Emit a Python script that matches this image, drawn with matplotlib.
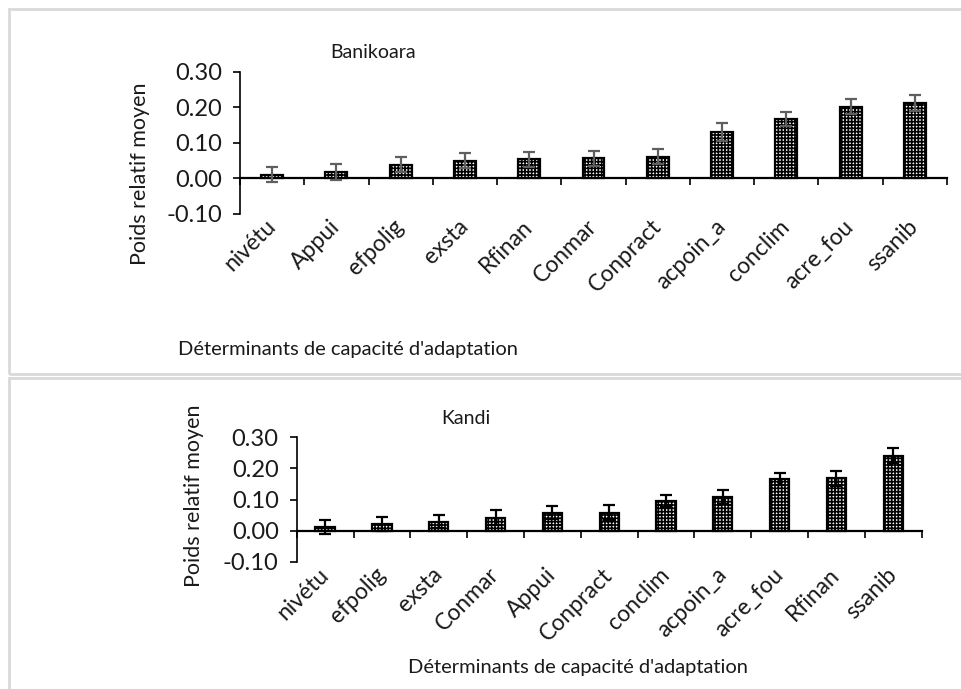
import matplotlib.pyplot as plt
from matplotlib.patches import Rectangle
import numpy as np

plt.rcParams['font.family'] = ['Lato', 'DejaVu Sans']
plt.rcParams['hatch.linewidth'] = 1.2

# --- data ---
cats_banikoara = ["nivétu", "Appui", "efpolig", "exsta", "Rfinan", "Conmar",
                  "Conpract", "acpoin_a", "conclim", "acre_fou", "ssanib"]
vals_banikoara = [0.010, 0.018, 0.038, 0.049, 0.053, 0.056,
                  0.060, 0.131, 0.167, 0.202, 0.212]
err_banikoara = [0.022, 0.023, 0.021, 0.021, 0.021, 0.021,
                 0.021, 0.025, 0.021, 0.021, 0.022]

cats_kandi = ["nivétu", "efpolig", "exsta", "Conmar", "Appui", "Conpract",
              "conclim", "acpoin_a", "acre_fou", "Rfinan", "ssanib"]
vals_kandi = [0.012, 0.021, 0.029, 0.041, 0.058, 0.058,
              0.096, 0.108, 0.166, 0.169, 0.241]
err_kandi = [0.023, 0.022, 0.020, 0.024, 0.020, 0.024,
             0.019, 0.023, 0.020, 0.024, 0.023]

yticks = [-0.10, 0.00, 0.10, 0.20, 0.30]
xlabel = "Déterminants de capacité d'adaptation"
ylabel = "Poids relatif moyen"
TXT = "#1a1a1a"

W, H = 962, 689
fig = plt.figure(figsize=(W / 100, H / 100), dpi=100)


def px(x, y):
    return x / W, 1 - y / H


def panel(rect, cats, vals, errs, ecolor):
    ax = fig.add_axes(rect)
    x = np.arange(len(cats))
    ax.bar(x, vals, width=0.34, color="white", edgecolor="black",
           linewidth=1.6, hatch="+++++", zorder=2)
    ax.errorbar(x, vals, yerr=errs, fmt="none", ecolor=ecolor,
                elinewidth=1.6, capsize=4.5, capthick=1.6, zorder=3)
    ax.set_xlim(-0.5, len(cats) - 0.5)
    ax.set_ylim(-0.10, 0.30)
    ax.set_yticks(yticks)
    ax.set_yticklabels([f"{v:.2f}" for v in yticks], fontsize=17, color=TXT)
    ax.tick_params(axis="y", direction="out", length=5, width=1.2, pad=8)
    ax.set_xticks(x)
    ax.set_xticklabels(cats, rotation=45, ha="right", va="center",
                       rotation_mode="anchor", fontsize=16.5, color=TXT)
    ax.tick_params(axis="x", length=0, pad=7)
    for s in ["top", "right", "bottom"]:
        ax.spines[s].set_visible(False)
    ax.spines["left"].set_linewidth(1.2)
    # category axis crossing at zero, with tick marks between categories
    zero = (0 - ax.get_ylim()[0]) / (ax.get_ylim()[1] - ax.get_ylim()[0])
    sec = ax.secondary_xaxis(zero)
    sec.set_xticks(np.arange(-0.5, len(cats), 1.0))
    sec.set_xticklabels([])
    sec.tick_params(direction="out", length=5, width=1.2)
    sec.spines["bottom"].set_linewidth(1.6)
    return ax


# top panel: Banikoara
x0, y0 = px(240, 213.5)
x1, y1 = px(947, 72)
panel([x0, y0, x1 - x0, y1 - y0], cats_banikoara, vals_banikoara,
      err_banikoara, "#5f5f5f")
fig.text(*px(373, 52), "Banikoara", ha="center", va="center", fontsize=14, color=TXT)
fig.text(*px(140, 174), ylabel, ha="center", va="center", rotation=90, fontsize=15.5, color=TXT)
fig.text(*px(348, 350), xlabel, ha="center", va="center", fontsize=14.5, color=TXT)

# bottom panel: Kandi
x0, y0 = px(296.7, 561.7)
x1, y1 = px(921.7, 437.3)
panel([x0, y0, x1 - x0, y1 - y0], cats_kandi, vals_kandi, err_kandi, "black")
fig.text(*px(466, 418), "Kandi", ha="center", va="center", fontsize=14, color=TXT)
fig.text(*px(194, 496), ylabel, ha="center", va="center", rotation=90, fontsize=15.5, color=TXT)
fig.text(*px(578, 667), xlabel, ha="center", va="center", fontsize=14.5, color=TXT)

# light grey frames of the two chart areas
for top, bot in [(9, 374), (378, 700)]:
    fig.patches.append(Rectangle(px(9, bot), (980 - 9) / W, (bot - top) / H,
                                 transform=fig.transFigure, fill=False,
                                 edgecolor="#d9d9d9", linewidth=2))

fig.savefig("out.png", dpi=100)
